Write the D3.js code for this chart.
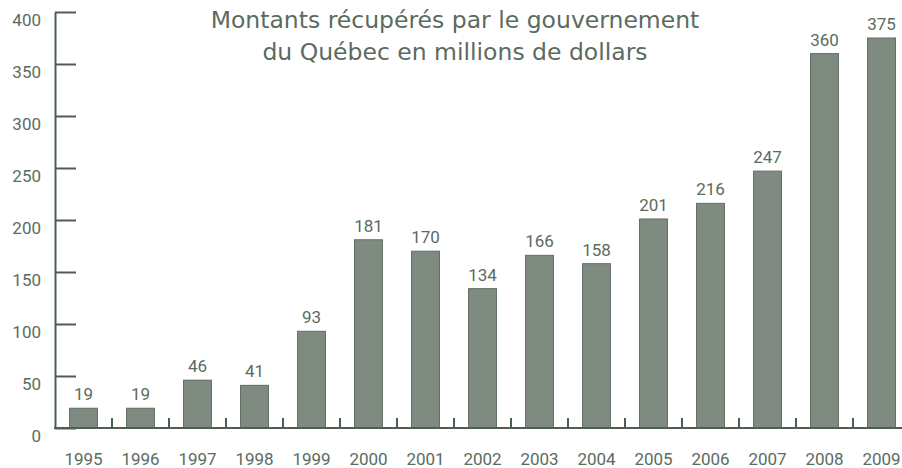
<!DOCTYPE html>
<html>
<head>
<meta charset="utf-8">
<script src="https://cdn.jsdelivr.net/npm/d3@7/dist/d3.min.js"></script>
<style>
  html, body { margin: 0; padding: 0; background: #ffffff; }
  svg { display: block; }
  text { font-family: Roboto, "Open Sans", sans-serif; fill: #5b6b5f; }
</style>
</head>
<body>
<svg id="chart" width="902" height="468"></svg>
<script>
const years = ["1995","1996","1997","1998","1999","2000","2001","2002","2003","2004","2005","2006","2007","2008","2009"];
const values = [19, 19, 46, 41, 93, 181, 170, 134, 166, 158, 201, 216, 247, 360, 375];
const yTicks = [0, 50, 100, 150, 200, 250, 300, 350, 400];
const titleLines = ["Montants récupérés par le gouvernement", "du Québec en millions de dollars"];

const svg = d3.select("#chart");
const axisColor = "#4e5f52";
const plotLeft = 55, plotRight = 910, plotTop = 12, plotBottom = 428;

const x = d3.scaleBand().domain(years).range([plotLeft, plotRight])
  .paddingInner(0.51).paddingOuter(0.255);
const y = d3.scaleLinear().domain([0, 400]).range([plotBottom, plotTop]);

// Title
svg.append("g").selectAll("text").data(titleLines).join("text")
  .attr("x", 455)
  .attr("y", (d, i) => 28 + i * 32)
  .attr("text-anchor", "middle")
  .style("font-family", "'DejaVu Sans', sans-serif")
  .style("font-size", "23.5px")
  .attr("fill", "#5e6e62")
  .text(d => d);

// Bars
svg.append("g").selectAll("rect").data(years).join("rect")
  .attr("x", d => x(d))
  .attr("width", x.bandwidth())
  .attr("y", (d, i) => y(values[i]))
  .attr("height", (d, i) => y(0) - y(values[i]))
  .attr("fill", "#7f8b81")
  .attr("stroke", "#5f6e63")
  .attr("stroke-width", 1);

// Value labels
svg.append("g").selectAll("text").data(years).join("text")
  .attr("x", d => x(d) + x.bandwidth() / 2)
  .attr("y", (d, i) => y(values[i]) - 8)
  .attr("text-anchor", "middle")
  .style("font-size", "17px")
  .text((d, i) => values[i]);

// Y axis
const yAxis = d3.axisLeft(y).tickValues(yTicks).tickSize(-21).tickSizeOuter(0).tickPadding(14);
const yg = svg.append("g").attr("transform", `translate(${plotLeft},0)`).call(yAxis);
yg.select(".domain").attr("stroke", axisColor).attr("stroke-width", 2);
yg.selectAll(".tick line").attr("stroke", axisColor).attr("stroke-width", 2);
yg.selectAll(".tick text")
  .attr("dy", "0.32em")
  .attr("y", 8)
  .style("font-size", "17px")
  .style("font-family", "Roboto, sans-serif")
  .attr("fill", "#5b6b5f");

// X axis baseline
svg.append("line")
  .attr("x1", plotLeft - 1).attr("x2", plotRight)
  .attr("y1", y(0)).attr("y2", y(0))
  .attr("stroke", axisColor).attr("stroke-width", 2);

// X axis separator ticks (between bands)
const sep = years.slice(1);
svg.append("g").selectAll("line").data(sep).join("line")
  .attr("x1", d => x(d) - x.step() * x.paddingInner() / 2)
  .attr("x2", d => x(d) - x.step() * x.paddingInner() / 2)
  .attr("y1", y(0) - 10).attr("y2", y(0))
  .attr("stroke", axisColor).attr("stroke-width", 2);

// X labels
svg.append("g").selectAll("text").data(years).join("text")
  .attr("x", d => x(d) + x.bandwidth() / 2)
  .attr("y", 465)
  .attr("text-anchor", "middle")
  .style("font-size", "17px")
  .text(d => d);
</script>
</body>
</html>
